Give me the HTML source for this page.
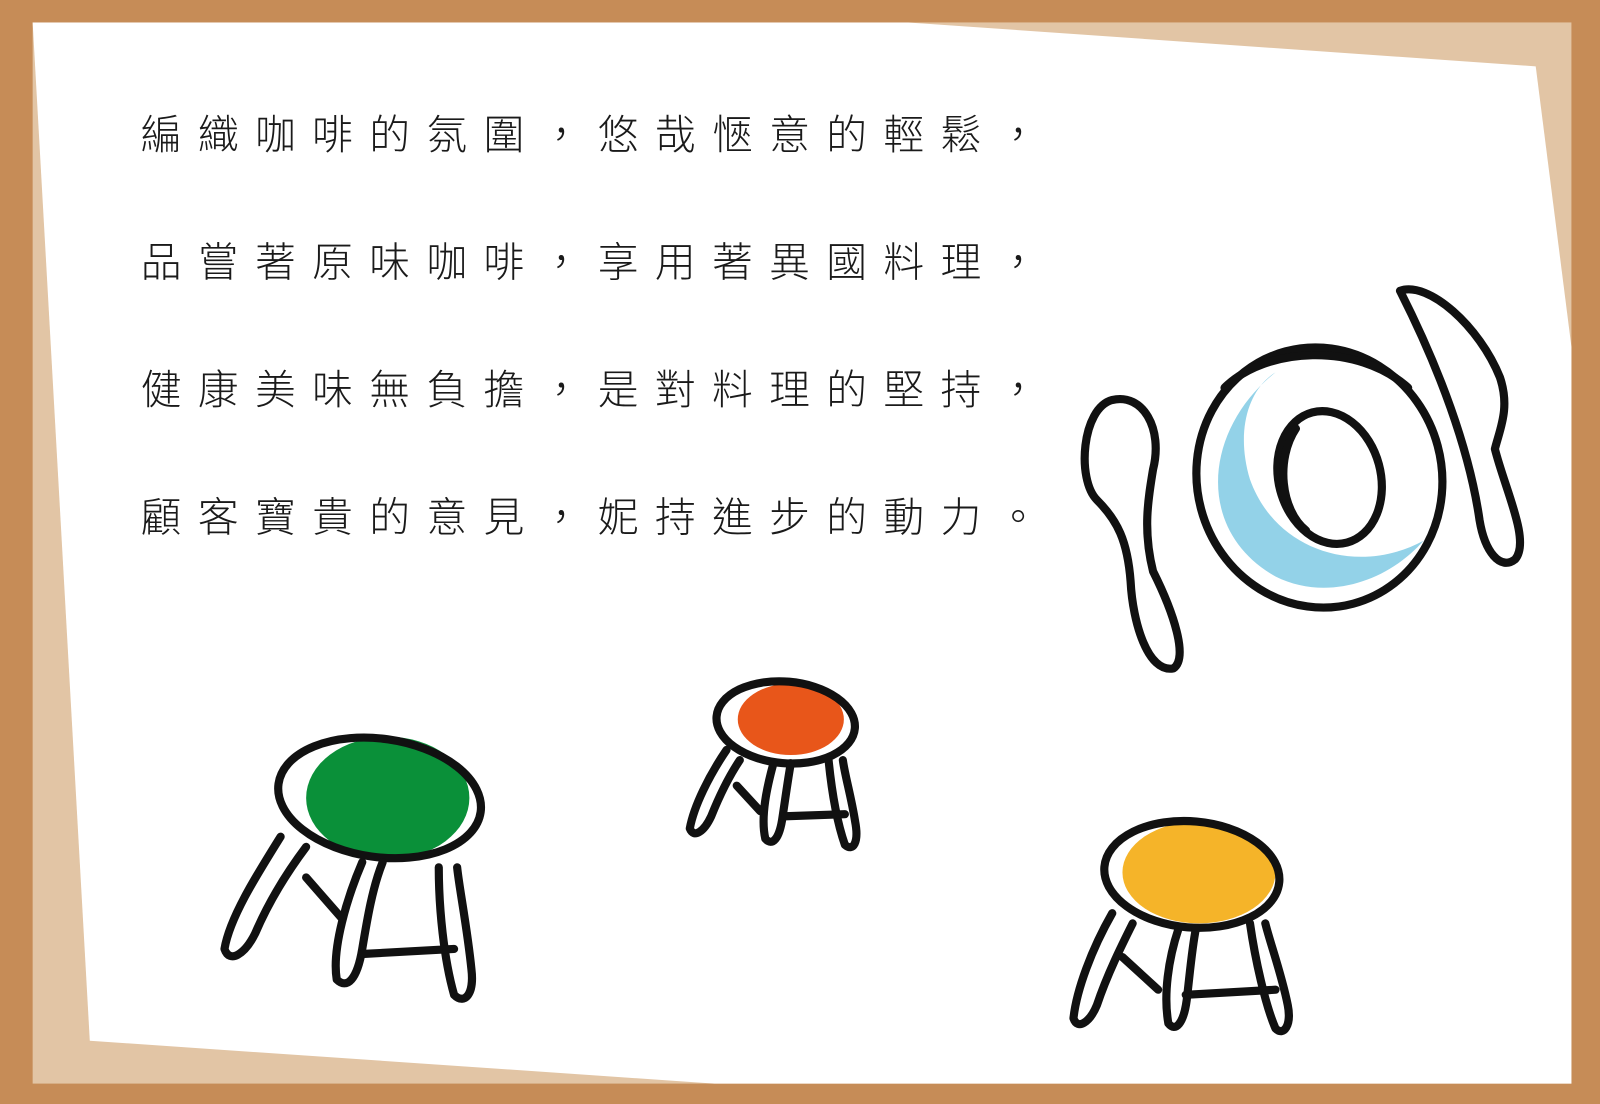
<!DOCTYPE html>
<html><head><meta charset="utf-8">
<style>
html,body{margin:0;padding:0;background:#c68c57;}
svg{display:block;}
.t{font-family:"Liberation Sans","Noto Sans CJK TC",sans-serif;font-weight:300;font-size:40px;letter-spacing:16px;fill:#1a1a1a;}
.k{fill:none;stroke:#111;stroke-width:8;stroke-linecap:round;stroke-linejoin:round;}
</style></head>
<body>
<svg width="1600" height="1104" viewBox="0 0 1568 1082" preserveAspectRatio="none" xmlns="http://www.w3.org/2000/svg">
  <rect x="0" y="0" width="1568" height="1082" fill="#c68c57"/>
  <rect x="32" y="22" width="1508" height="1040" fill="#e2c5a5"/>
  <polygon points="32,22 890,22 1505,65 1540,340 1540,1062 700,1062 88,1020" fill="#ffffff"/>

  <g>
    <text class="t" x="138" y="146">編織咖啡的氛圍，悠哉愜意的輕鬆，</text>
    <text class="t" x="138" y="271">品嘗著原味咖啡，享用著異國料理，</text>
    <text class="t" x="138" y="396">健康美味無負擔，是對料理的堅持，</text>
    <text class="t" x="138" y="521">顧客寶貴的意見，妮持進步的動力。</text>
  </g>

  <g>
    <path d="M1250,365 C1180,420 1170,520 1250,565 C1300,590 1360,570 1395,530 C1330,565 1250,540 1225,470 C1210,420 1225,380 1250,365 Z" fill="#93d2e8"/>
    <ellipse class="k" cx="1293" cy="468" rx="120" ry="128" transform="rotate(-15 1293 468)"/>
    <path class="k" d="M1200,380 C1240,340 1330,335 1380,380" />
    <ellipse class="k" cx="1303" cy="468" rx="50" ry="66" transform="rotate(-15 1303 468)"/>
    <path class="k" d="M1270,420 C1250,450 1255,500 1280,520"/>
  </g>
  <g>
    <path class="k" d="M1090,392 C1060,400 1055,470 1075,490 C1095,510 1105,530 1108,570 C1110,610 1125,660 1150,655 C1165,645 1150,600 1130,560 C1120,520 1125,490 1130,460 C1140,420 1120,385 1090,392 Z"/>
  </g>
  <g>
    <path class="k" d="M1372,285 C1400,275 1450,320 1470,370 C1480,400 1470,420 1465,440 C1475,480 1500,530 1485,548 C1470,560 1455,540 1450,510 C1440,440 1410,360 1372,285 Z"/>
  </g>

  <g>
    <ellipse cx="380" cy="782" rx="80" ry="60" fill="#0a9039"/>
    <ellipse class="k" cx="372" cy="782" rx="100" ry="58" transform="rotate(8 372 782)"/>
    <path class="k" d="M275,820 C250,860 225,900 220,930 C225,945 240,935 250,915 C265,880 285,850 300,830"/>
    <path class="k" d="M355,845 C340,880 325,930 330,960 C340,970 350,960 355,930 C360,900 365,870 375,845"/>
    <path class="k" d="M430,850 C430,890 435,940 445,975 C455,985 465,975 462,950 C458,910 450,870 448,850"/>
    <path class="k" d="M300,860 L335,900"/>
    <path class="k" d="M355,935 L445,930"/>
  </g>
  <g>
    <ellipse cx="775" cy="705" rx="52" ry="35" fill="#e8561a"/>
    <ellipse class="k" cx="770" cy="708" rx="68" ry="40" transform="rotate(5 770 708)"/>
    <path class="k" d="M712,735 C695,760 680,790 676,812 C680,822 690,815 697,800 C705,780 715,760 725,745"/>
    <path class="k" d="M758,748 C752,770 745,800 750,822 C757,830 764,822 767,800 C770,780 772,765 775,748"/>
    <path class="k" d="M812,745 C815,775 820,805 828,828 C836,835 842,826 838,805 C834,780 828,760 826,745"/>
    <path class="k" d="M722,770 L745,795"/>
    <path class="k" d="M770,800 L828,798"/>
  </g>
  <g>
    <ellipse cx="1175" cy="855" rx="75" ry="50" fill="#f5b429"/>
    <ellipse class="k" cx="1168" cy="857" rx="86" ry="52" transform="rotate(5 1168 857)"/>
    <path class="k" d="M1090,895 C1070,930 1055,970 1052,998 C1056,1010 1068,1002 1075,985 C1085,955 1100,925 1110,905"/>
    <path class="k" d="M1155,910 C1145,940 1140,975 1145,1003 C1152,1012 1160,1003 1163,980 C1166,955 1168,930 1172,910"/>
    <path class="k" d="M1225,905 C1230,940 1240,985 1250,1008 C1258,1016 1266,1005 1262,985 C1256,955 1245,925 1240,905"/>
    <path class="k" d="M1100,938 L1135,970"/>
    <path class="k" d="M1162,975 L1250,970"/>
  </g>
</svg>
</body></html>
